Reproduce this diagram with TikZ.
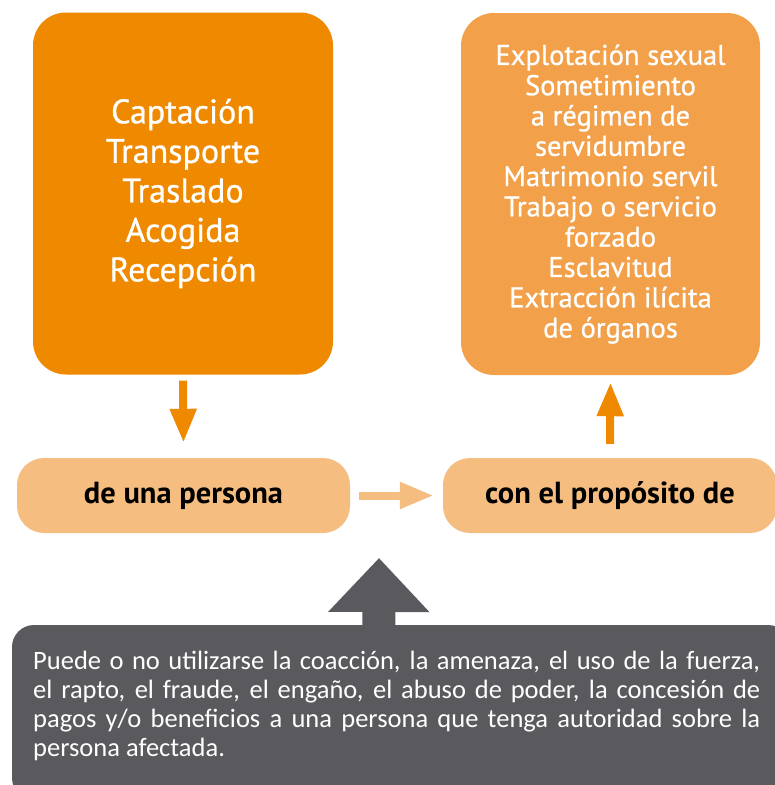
\documentclass[tikz,border=0pt]{standalone}
\usepackage{fontspec}
\setmainfont{PT Sans}
\newfontfamily\calfont{Carlito}
\newfontfamily\medfont[FakeBold=0.8]{PT Sans}
\usetikzlibrary{arrows.meta,calc}
\definecolor{orA}{RGB}{238,137,0}
\definecolor{orB}{RGB}{242,160,74}
\definecolor{orC}{RGB}{246,189,129}
\definecolor{grA}{RGB}{90,89,94}
\tikzset{
  bigbox/.style={rounded corners=33pt, inner sep=0pt, minimum width=300pt, minimum height=362pt, text=white, align=center},
  smallbox/.style={fill=orC, rounded corners=27pt, inner sep=0pt, minimum height=75pt, text=black, font=\fontsize{30.5}{32}\selectfont\bfseries},
  orarrow/.style={draw=orA, line width=8pt, -{Triangle[width=25pt,length=34pt]}},
  ltarrow/.style={draw=orC, line width=8pt, -{Triangle[width=25pt,length=34pt]}},
}
\begin{document}
\begin{tikzpicture}[x=1pt,y=-1pt]
\clip (0,0) rectangle (775,785);
\fill[white] (0,0) rectangle (775,785);
\node[bigbox, fill=orA, font=\medfont\fontsize{34}{39.5}\selectfont] (b1) at (183,193.5)
  {Captación\\Transporte\\Traslado\\Acogida\\Recepción};
\node[bigbox, fill=orB, minimum width=299pt, font=\medfont\fontsize{28.5}{30.3}\selectfont] (b2) at (610.5,194)
  {Explotación sexual\\Sometimiento\\a régimen de\\servidumbre\\Matrimonio servil\\Trabajo o servicio\\forzado\\Esclavitud\\Extracción ilícita\\de órganos};
\node[smallbox, minimum width=333pt] (p1) at (183.5,495.5) {de una persona};
\node[smallbox, minimum width=334pt] (p2) at (610,495.5) {con el propósito de};
\draw[orarrow] ($(b1.south)+(0,6)$) -- ($(p1.north)+(0,-15)$);
\draw[orarrow] ($(p2.north)+(0,-14)$) -- ($(b2.south)+(0,7)$);
\draw[ltarrow] ($(p1.east)+(9,0)$) -- ($(p2.west)+(-9,0)$);
\node[fill=grA, rounded corners=22pt, inner sep=0pt, minimum width=778pt, minimum height=175pt] (g) at (401,712.5) {};
\coordinate (gtip) at (379,558);
\draw[draw=grA, line width=33pt, -{Triangle[width=98pt,length=54pt]}] ($(g.north west)+(367,1)$) -- (gtip);
\node[anchor=base west, inner sep=0pt, text width=727pt, align=justify, text=white, font=\calfont\fontsize{26.5}{29}\selectfont] (gt) at (33,669)
  {Puede o no utilizarse la coacción, la amenaza, el uso de la fuerza,\linebreak el rapto, el fraude, el engaño, el abuso de poder, la concesión de\linebreak pagos y/o beneficios a una persona que tenga autoridad sobre la\linebreak persona afectada.};
\end{tikzpicture}
\end{document}
